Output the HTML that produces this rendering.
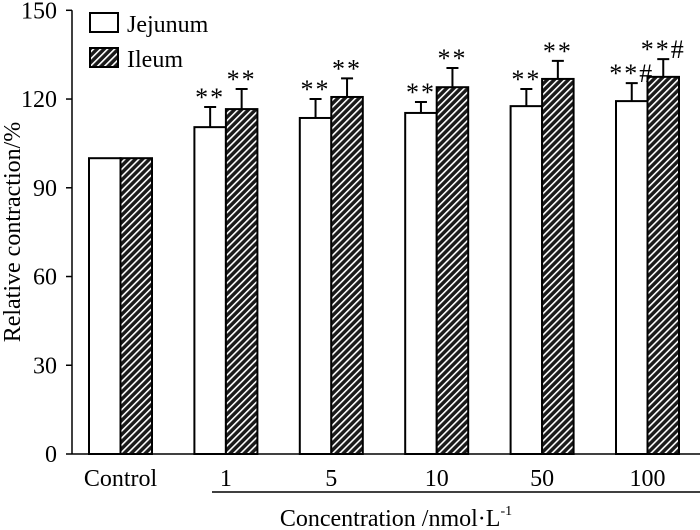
<!DOCTYPE html>
<html><head><meta charset="utf-8"><style>
body{margin:0;background:#fff}
svg{display:block;font-family:"Liberation Serif",serif}
</style></head><body>
<svg id="chart" width="700" height="530">
<defs>
<pattern id="hatch" patternUnits="userSpaceOnUse" width="5" height="5" patternTransform="rotate(45)">
<rect width="5" height="5" fill="#1a1a1a"/>
<rect x="0" y="0" width="1.6" height="5" fill="#fff"/>
</pattern>
</defs>
<g id="axes"></g>
<g id="bars"></g>
<g>
<rect x="90" y="13" width="28" height="19" fill="#fff" stroke="#000" stroke-width="2"/>
<text x="127" y="32" font-size="24">Jejunum</text>
<rect x="90" y="48" width="28" height="19" fill="url(#hatch)" stroke="#000" stroke-width="2"/>
<text x="127" y="67" font-size="24">Ileum</text>
</g>
<text x="20" y="232" font-size="24" text-anchor="middle" transform="rotate(-90 20 232)">Relative contraction/%</text>
<line x1="212" y1="492" x2="700" y2="492" stroke="#000" stroke-width="1.5"/>
<text x="396" y="526" font-size="24" text-anchor="middle">Concentration /nmol·L<tspan dy="-11" font-size="14">-1</tspan></text>
</svg>
<script>
const categories=["Control","1","5","10","50","100"];
const jejunum=[100,110.5,113.6,115.3,117.6,119.3];
const jejunumErr=[0,6.8,6.4,3.7,5.8,6.1];
const ileum=[100,116.6,120.7,124,126.8,127.5];
const ileumErr=[0,6.8,6.3,6.5,6.1,6];
const jejunumMarks=["","**","**","**","**","**#"];
const ileumMarks=["","**","**","**","**","**#"];
const yTicks=[0,30,60,90,120,150];
const NS="http://www.w3.org/2000/svg";
const y0=454,pxPer=2.958;
const y=v=>y0-v*pxPer;
const groupX=i=>89+i*105.4;
const bw=31.5;
function mk(tag,attrs,parent){const e=document.createElementNS(NS,tag);for(const k in attrs)e.setAttribute(k,attrs[k]);parent.appendChild(e);return e;}
const ax=document.getElementById('axes'),bars=document.getElementById('bars');
let l=mk('line',{x1:72,y1:y(150),x2:72,y2:y0,stroke:'#000','stroke-width':1.5},ax);


l=mk('line',{x1:72,y1:y0,x2:700,y2:y0,stroke:'#000','stroke-width':1.5},ax);


yTicks.forEach(t=>{
 const tk=mk('line',{x1:66,y1:y(t),x2:72,y2:y(t),stroke:'#000','stroke-width':1.5},ax);
 
 
 const tx=mk('text',{x:57,y:y(t)+8,'font-size':24,'text-anchor':'end'},ax);tx.textContent=t;
 
 
});
categories.forEach((c,i)=>{
 const gx=groupX(i);
 const tx=mk('text',{x:gx+bw,y:486,'font-size':24,'text-anchor':'middle'},ax);tx.textContent=c;
 
 
 [[jejunum,jejunumErr,jejunumMarks,'#fff','jejunum'],[ileum,ileumErr,ileumMarks,'url(#hatch)','ileum']].forEach((s,k)=>{
  const x=gx+k*bw,v=s[0][i],e=s[1][i];
  if(e>0){
   const cx=x+bw/2;
   const el=mk('path',{d:`M${cx} ${y(v)}V${y(v+e)}M${cx-6} ${y(v+e)}H${cx+6}`,stroke:'#000','stroke-width':2,fill:'none'},bars);
   
   
  }
  const r=mk('rect',{x:x,y:y(v),width:bw,height:y0-y(v),fill:s[3],stroke:'#000','stroke-width':2},bars);
  
  
  if(s[2][i]){
   const m=mk('text',{x:x+bw/2,y:y(v+e)-1,'font-size':26,'text-anchor':'middle','letter-spacing':2},bars);
   m.textContent=s[2][i];
   
   
  }
 });
});
</script>
</body></html>
